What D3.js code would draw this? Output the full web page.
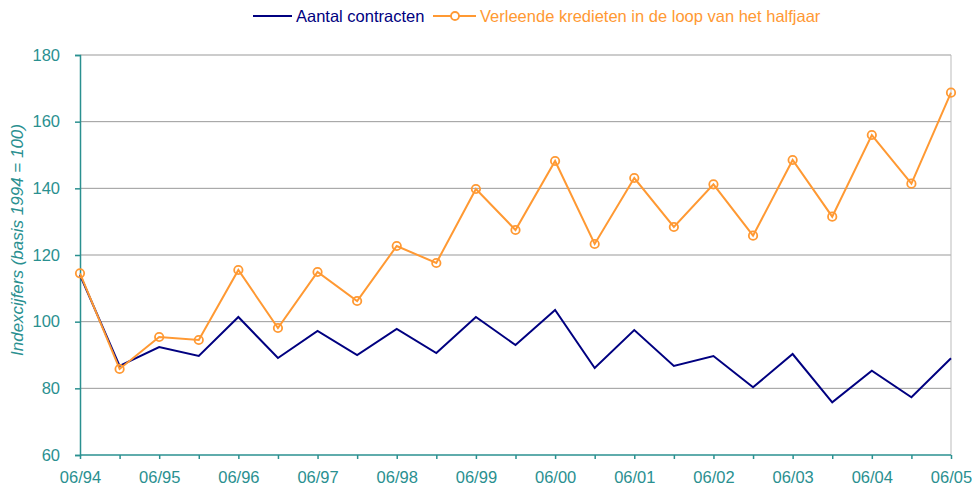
<!DOCTYPE html>
<html>
<head>
<meta charset="utf-8">
<script src="https://cdn.jsdelivr.net/npm/d3@7"></script>
<style>
  body { margin: 0; background: #fff; }
  text { font-family: "Liberation Sans", Arial, sans-serif; }
</style>
</head>
<body>
<div id="chart"></div>
<script>
// half-yearly periods, 06/94 .. 06/05
const periods = ["06/94","12/94","06/95","12/95","06/96","12/96","06/97","12/97","06/98","12/98",
  "06/99","12/99","06/00","12/00","06/01","12/01","06/02","12/02","06/03","12/03","06/04","12/04","06/05"];
const contracten = [114, 86.7, 92.4, 89.7, 101.4, 89.1, 97.2, 90, 97.8, 90.6, 101.4, 93, 103.5, 86.1,
  97.5, 86.7, 89.7, 80.3, 90.3, 75.8, 85.3, 77.3, 89];
const kredieten = [114.5, 85.8, 95.4, 94.5, 115.5, 98.1, 114.9, 106.2, 122.7, 117.6, 139.8, 127.5, 148.2,
  123.3, 143.1, 128.4, 141.2, 125.8, 148.5, 131.5, 156, 141.4, 168.7];
const yTicks = [60, 80, 100, 120, 140, 160, 180];

const width = 972, height = 486;
const margin = { left: 80, right: 21, top: 55, bottom: 31 };
const teal = "#2a9090";

const svg = d3.select("#chart").append("svg")
  .attr("width", width)
  .attr("height", height);

const x = d3.scalePoint()
  .domain(periods)
  .range([margin.left, width - margin.right]);

const y = d3.scaleLinear()
  .domain([60, 180])
  .range([height - margin.bottom, margin.top]);

// gridlines
svg.append("g")
  .selectAll("line")
  .data(yTicks.slice(1))
  .enter()
  .append("line")
  .attr("x1", margin.left)
  .attr("x2", width - margin.right)
  .attr("y1", d => y(d))
  .attr("y2", d => y(d))
  .attr("stroke", "#999")
  .attr("stroke-width", 1);

// right border
svg.append("line")
  .attr("x1", width - margin.right)
  .attr("x2", width - margin.right)
  .attr("y1", y(180))
  .attr("y2", y(60))
  .attr("stroke", "#bbb");

// y axis
const yAxis = svg.append("g")
  .attr("transform", `translate(${margin.left},0)`)
  .call(d3.axisLeft(y).tickValues(yTicks).tickSize(5).tickPadding(15));
yAxis.selectAll("path, line").attr("stroke", teal).attr("stroke-width", 1.5);
yAxis.selectAll("text").attr("fill", teal).style("font-size", "16.5px")
  .style("font-family", "Liberation Sans, Arial, sans-serif");

// x axis
const xAxis = svg.append("g")
  .attr("transform", `translate(0,${height - margin.bottom})`)
  .call(d3.axisBottom(x).tickSize(4).tickPadding(12)
    .tickFormat((d, i) => i % 2 === 0 ? d : ""));
xAxis.select(".domain").attr("d", `M${margin.left},0H${width - margin.right}`);
xAxis.selectAll("path, line").attr("stroke", teal).attr("stroke-width", 1.5);
xAxis.selectAll("text").attr("fill", teal).style("font-size", "16.5px")
  .style("font-family", "Liberation Sans, Arial, sans-serif");

// y axis label
svg.append("text")
  .attr("transform", "translate(23,240) rotate(-90)")
  .attr("text-anchor", "middle")
  .attr("fill", teal)
  .style("font-size", "17px")
  .style("font-style", "italic")
  .text("Indexcijfers (basis 1994 = 100)");

const line = d3.line()
  .x((d, i) => x(periods[i]))
  .y(d => y(d));

svg.append("path")
  .datum(contracten)
  .attr("fill", "none")
  .attr("stroke", "#000080")
  .attr("stroke-width", 2)
  .attr("d", line);

svg.append("path")
  .datum(kredieten)
  .attr("fill", "none")
  .attr("stroke", "#ff9933")
  .attr("stroke-width", 2)
  .attr("d", line);

svg.append("g")
  .selectAll("circle")
  .data(kredieten)
  .enter()
  .append("circle")
  .attr("cx", (d, i) => x(periods[i]))
  .attr("cy", d => y(d))
  .attr("r", 4.2)
  .attr("fill", "none")
  .attr("stroke", "#ff9933")
  .attr("stroke-width", 1.8);

// legend
const legend = svg.append("g").attr("transform", "translate(0,16)");
legend.append("line")
  .attr("x1", 253).attr("x2", 292).attr("y1", 0).attr("y2", 0)
  .attr("stroke", "#000080").attr("stroke-width", 2);
legend.append("text")
  .attr("x", 296).attr("y", 6)
  .attr("fill", "#000080")
  .style("font-size", "16.5px")
  .text("Aantal contracten");
legend.append("line")
  .attr("x1", 433).attr("x2", 476).attr("y1", 0).attr("y2", 0)
  .attr("stroke", "#ff9933").attr("stroke-width", 2);
legend.append("circle")
  .attr("cx", 455).attr("cy", 0).attr("r", 4)
  .attr("fill", "#fff").attr("stroke", "#ff9933").attr("stroke-width", 1.8);
legend.append("text")
  .attr("x", 480).attr("y", 6)
  .attr("fill", "#ff9933")
  .style("font-size", "16.5px")
  .text("Verleende kredieten in de loop van het halfjaar");
</script>
</body>
</html>
